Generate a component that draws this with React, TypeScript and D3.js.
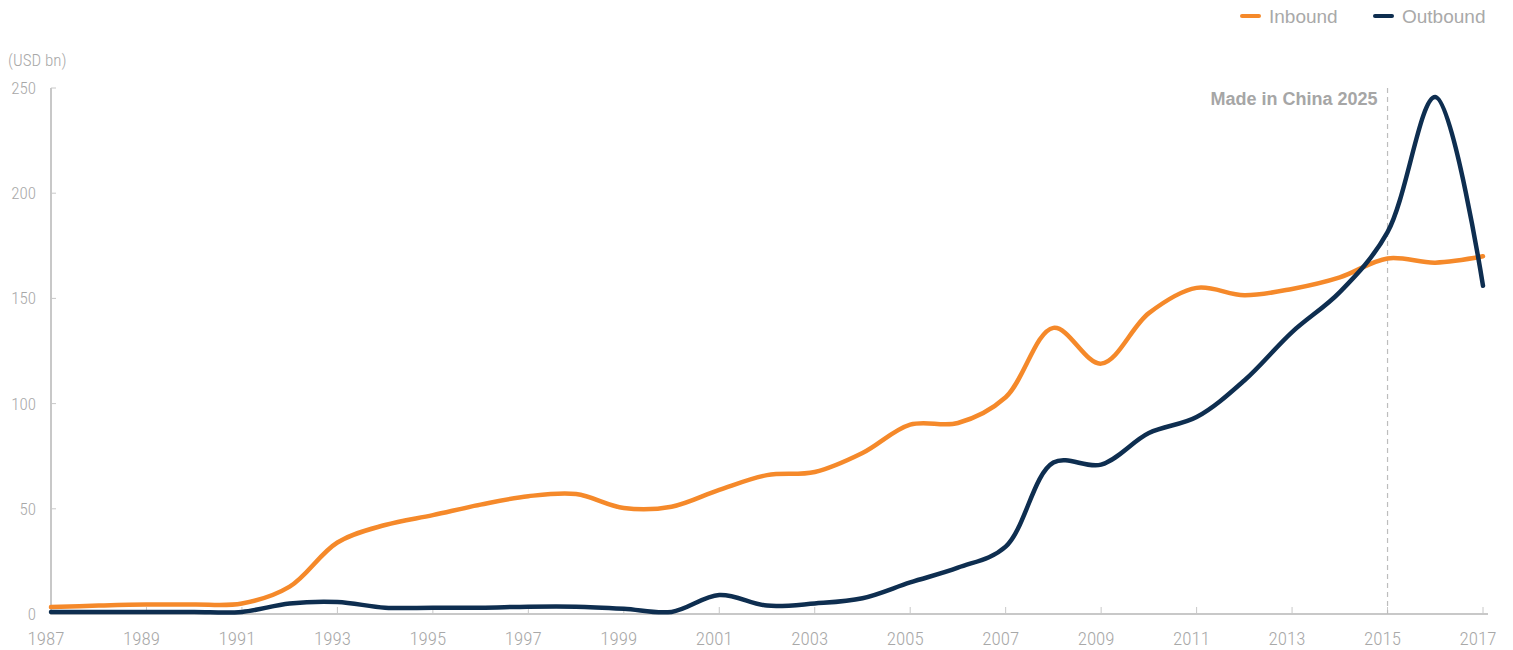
import React from 'react';
import * as d3 from 'd3';

const years = d3.range(1987, 2018);
const inbound = [3.3, 4, 4.5, 4.5, 5, 13, 34, 42.3, 47, 52, 56, 57, 50.4, 51, 59, 66, 67.5, 76.5, 90, 90.8, 103, 136, 119, 143, 155, 151.5, 154.5, 160, 169, 167, 170];
const outbound = [1, 1, 1, 1, 1, 5, 5.7, 3, 3, 3, 3.5, 3.5, 2.5, 1, 9, 4, 5, 7.5, 15, 22, 32, 72, 71, 86, 93.6, 111, 134, 153, 181.5, 245.7, 156];
const yTicks = [0, 50, 100, 150, 200, 250];
const xTicks = d3.range(1987, 2018, 2);
const series = [
  { name: 'Inbound', values: inbound, color: '#f5892a' },
  { name: 'Outbound', values: outbound, color: '#0e2e50' },
];
const markerYear = 2015;

const App = () => {
  const width = 1513;
  const height = 650;
  const x = d3.scaleLinear().domain([1987, 2017]).range([51, 1483]);
  const y = d3.scaleLinear().domain([0, 250]).range([614, 88]);
  const line = d3.line<number>()
    .x((d, i) => x(years[i]))
    .y(d => y(d))
    .curve(d3.curveCatmullRom.alpha(0.5));

  const tickFont = "'Liberation Sans Narrow', 'Roboto Condensed', 'Liberation Sans', sans-serif";
  const grey = '#a8a8a8';

  return (
    <svg width={width} height={height} style={{ position: 'absolute', left: 0, top: 0 }}>
      {/* axes */}
      <line x1={x(1987)} x2={x(1987)} y1={y(250)} y2={y(0)} stroke="#c8c8c8" strokeWidth={2} />
      <line x1={x(1987) - 1} x2={1488} y1={y(0)} y2={y(0)} stroke="#c8c8c8" strokeWidth={2} />
      {yTicks.map(t => (
        <g key={t}>
          <line x1={x(1987)} x2={x(1987) + 5} y1={y(t)} y2={y(t)} stroke="#c8c8c8" strokeWidth={1} />
          <text x={36} y={y(t)} dy="0.35em" textAnchor="end" fontFamily={tickFont} fontWeight={300} fontSize={17} fill={grey}>{t}</text>
        </g>
      ))}
      {xTicks.map(t => (
        <g key={t}>
          <line x1={x(t)} x2={x(t)} y1={y(0)} y2={y(0) - 7} stroke="#c8c8c8" strokeWidth={1} />
          <text x={x(t) - 5} y={645} textAnchor="middle" fontFamily={tickFont} fontWeight={300} fontSize={19} fill={grey}>{t}</text>
        </g>
      ))}
      <text x={8} y={66} fontFamily={tickFont} fontWeight={300} fontSize={17} fill={grey}>(USD bn)</text>

      {/* Made in China 2025 marker */}
      <line x1={x(markerYear)} x2={x(markerYear)} y1={y(250)} y2={y(0)} stroke="#bdbdbd" strokeWidth={1.2} strokeDasharray="5,4" />
      <text x={x(markerYear) - 10} y={105} textAnchor="end" fontFamily="'Liberation Sans', Arial, sans-serif" fontWeight="bold" fontSize={18} fill="#a6a6a6">Made in China 2025</text>

      {/* lines */}
      {series.map(s => (
        <path key={s.name} d={line(s.values) || ''} fill="none" stroke={s.color} strokeWidth={4.5} strokeLinecap="round" strokeLinejoin="round" />
      ))}

      {/* legend */}
      {series.map((s, i) => {
        const lx = 1242 + i * 133;
        return (
          <g key={s.name}>
            <line x1={lx} x2={lx + 17} y1={16} y2={16} stroke={s.color} strokeWidth={4} strokeLinecap="round" />
            <text x={lx + 27} y={16} dy="0.35em" fontFamily="'Liberation Sans', Arial, sans-serif" fontSize={19} fill="#a9a9a9">{s.name}</text>
          </g>
        );
      })}
    </svg>
  );
};

export default App;
